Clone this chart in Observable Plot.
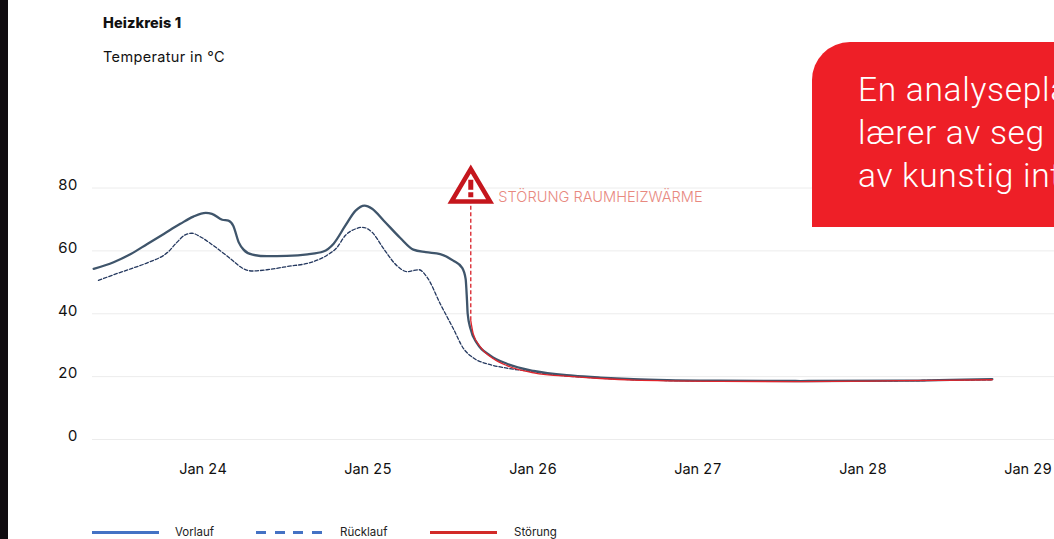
<!DOCTYPE html>
<html lang="de">
<head>
<meta charset="utf-8">
<script src="https://cdn.jsdelivr.net/npm/d3@7"></script>
<script src="https://cdn.jsdelivr.net/npm/@observablehq/plot@0.6"></script>
<style>
  html, body { margin: 0; padding: 0; background: #fff; overflow: hidden; }
  body { width: 1054px; height: 539px; position: relative; font-family: Inter, sans-serif; color: #111; }
  #strip { position: absolute; left: 0; top: 0; width: 8px; height: 539px; background: #100c10; }
  #header { height: 150px; position: relative; }
  #title { position: absolute; left: 103px; top: 14px; font-size: 14.5px; font-weight: 800; line-height: 18px; letter-spacing: 0.1px; }
  #subtitle { position: absolute; left: 103px; top: 48px; font-size: 14.5px; font-weight: 400; line-height: 18px; letter-spacing: 0.35px; }
  #chart svg { display: block; }
  #legend { position: relative; height: 24px; }
  .swatch { position: absolute; top: 16px; width: 67px; height: 2.5px; }
  .entry { position: absolute; top: 9px; font-size: 11.5px; line-height: 16px; color: #222; }
  #callout { position: absolute; left: 812px; top: 42px; width: 242px; height: 185px; background: #ee1f27;
             border-top-left-radius: 38px; overflow: hidden; color: #fff; font-family: Roboto, sans-serif; font-weight: 300; }
  #callout div { position: absolute; left: 46px; font-size: 33.5px; line-height: 43px; white-space: nowrap; letter-spacing: 0.7px; }
</style>
</head>
<body>
<div id="strip"></div>
<div id="header">
  <div id="title"></div>
  <div id="subtitle"></div>
</div>
<div id="chart"></div>
<div id="legend"></div>
<div id="callout"></div>
<script>
const titleText = "Heizkreis 1";
const subtitleText = "Temperatur in °C";
const alertText = "STÖRUNG RAUMHEIZWÄRME";
const calloutLines = ["En analysepla", "lærer av seg", "av kunstig int"];
const legendLabels = ["Vorlauf", "Rücklauf", "Störung"];
const yTicks = [0, 20, 40, 60, 80];
const xTickDays = [24, 25, 26, 27, 28, 29];

// Hours relative to Jan 24 00:00, temperature in °C
const vorlaufHours = [-15.9,-13,-10.5,-8.1,-5.7,-3.3,-1.4,0.4,1.3,2.8,3.7,4.4,5.2,5.9,7.2,9.3,12.2,15.2,17.5,19,20.7,22.2,23.5,24.6,26.3,28.7,30.6,32.4,34.5,36.4,37.7,38.2,38.4,38.5,38.9,39.9,41.8,44.2,48.1,53.8,57.8,62.6,67.5,75.3,86.9,101.5,114.8];
const vorlaufTemp  = [54.3,56.4,59,62.2,65.4,68.6,70.9,72.1,71.8,69.9,69.6,68,62.7,60.4,58.8,58.3,58.4,58.9,59.8,62.3,68,72.8,74.4,73.4,69.6,64.1,60.4,59.6,59,56.9,54.6,51.1,44.2,40,35.3,30.5,26.7,24.1,21.8,20.3,19.7,19.2,18.9,18.7,18.6,18.7,19.2];

const ruecklaufHours = [-15.2,-13,-10.5,-8.1,-5,-3.8,-2.5,-1.6,-0.4,1.5,4,5.9,7.2,9.3,12.2,16.1,18.1,19.5,20.7,22.2,23.2,24.6,26.3,28.2,29.7,31.4,32.6,34.5,36.4,37.9,39.3,41.8,44.2,48.1,51,57.8,66.5,86.9,101.5,114.8];
const ruecklaufTemp  = [50.6,52.4,54.3,56.2,59.8,62.7,65.2,65.6,64.5,61.7,57.5,54.3,53.6,54,55,56.6,58.7,61.1,64.9,67,67.5,65.9,60.6,55.3,53.4,54,51.6,43.2,35.3,28.9,26,23.8,22.7,21.5,20.6,19.5,18.8,18.5,18.7,19];

const stoerungHours = [38.95,39.3,40.4,42.3,44.2,48.1,53.8,57.8,62.6,75.3,86.9,101.5,114.8];
const stoerungTemp  = [37.8,33.7,29.3,25.6,23.5,21.2,20,19.4,18.9,18.5,18.4,18.7,19];

const alertHour = 38.95;
const alertRuleTemp = [37.8, 75.4];
const alertBaseTemp = 75.7;
const alertLabelTemp = 77.1;

const toDate = h => new Date(Date.UTC(2021, 0, 24) + h * 3600e3);
const table = (hs, ts) => hs.map((h, i) => ({date: toDate(h), temp: ts[i]}));

const triangle = {draw(c) { c.moveTo(0, -32.5); c.lineTo(19.3, 0); c.lineTo(-19.3, 0); c.closePath(); }};
const bang = {draw(c) {
  c.moveTo(-2.5, -21.7); c.lineTo(2.5, -21.7); c.lineTo(2.5, -11.7); c.lineTo(-2.5, -11.7); c.closePath();
  c.moveTo(-2.5, -9.3); c.lineTo(2.5, -9.3); c.lineTo(2.5, -4.3); c.lineTo(-2.5, -4.3); c.closePath();
}};

const alertPoint = [{date: toDate(alertHour), temp: alertBaseTemp}];

const plot = Plot.plot({
  width: 1054,
  height: 365,
  marginLeft: 92,
  marginRight: 0,
  marginTop: 37.5,
  marginBottom: 76,
  style: {fontFamily: "Inter, sans-serif", background: "transparent", color: "#111"},
  x: {type: "utc", domain: [toDate(-16.07), toDate(123.85)]},
  y: {domain: [0, 80]},
  marks: [
    Plot.ruleY(yTicks, {stroke: "#ececec", strokeWidth: 1}),
    Plot.axisY({ticks: yTicks, tickSize: 0, tickPadding: 15, label: null, fontSize: 15, dy: -3, tickFormat: d => d}),
    Plot.axisX({ticks: xTickDays.map(d => new Date(Date.UTC(2021, 0, d))), tickSize: 0, tickPadding: 24, label: null,
                fontSize: 14.5, tickFormat: d3.utcFormat("%b %d")}),
    Plot.ruleX([alertHour], {x: toDate, y1: alertRuleTemp[0], y2: alertRuleTemp[1], stroke: "#d81e26", strokeWidth: 1.3, strokeDasharray: "4 2.5"}),
    Plot.line(table(ruecklaufHours, ruecklaufTemp), {x: "date", y: "temp", curve: "monotone-x", stroke: "#24385f", strokeWidth: 1.3, strokeDasharray: "3.5 2"}),
    Plot.line(table(vorlaufHours, vorlaufTemp), {x: "date", y: "temp", curve: "monotone-x", stroke: "#3f556b", strokeWidth: 2.3}),
    Plot.line(table(stoerungHours, stoerungTemp), {x: "date", y: "temp", curve: "monotone-x", stroke: "#e0252c", strokeWidth: 1.3}),
    Plot.dot(alertPoint, {x: "date", y: "temp", symbol: triangle, r: 10, fill: "#fff", stroke: "#c5161d", strokeWidth: 4.5}),
    Plot.dot(alertPoint, {x: "date", y: "temp", symbol: bang, r: 10, fill: "#c5161d", stroke: "none"}),
    Plot.text([alertText], {x: toDate(alertHour), y: alertLabelTemp, text: d => d, dx: 27.5, textAnchor: "start", fontSize: 14.6, fill: "#e8897f", fontWeight: 300})
  ]
});
document.getElementById("chart").append(plot);

document.getElementById("title").textContent = titleText;
document.getElementById("subtitle").textContent = subtitleText;

const legendEl = document.getElementById("legend");
const swatchLeft = [92, 256, 430];
const labelLeft = [175, 340, 514];
const solid = c => c;
const dashed = c => `repeating-linear-gradient(to right, ${c} 0 10px, transparent 10px 18.6px)`;
const swatchPaint = [solid("#4472c4"), dashed("#4472c4"), solid("#d22a28")];
legendLabels.forEach((name, i) => {
  const s = document.createElement("div");
  s.className = "swatch";
  s.style.left = swatchLeft[i] + "px";
  s.style.background = swatchPaint[i];
  legendEl.append(s);
  const t = document.createElement("div");
  t.className = "entry";
  t.style.left = labelLeft[i] + "px";
  t.textContent = name;
  legendEl.append(t);
});

const calloutEl = document.getElementById("callout");
calloutLines.forEach((line, i) => {
  const d = document.createElement("div");
  d.style.top = (26 + i * 43) + "px";
  d.textContent = line;
  calloutEl.append(d);
});
</script>
</body>
</html>
